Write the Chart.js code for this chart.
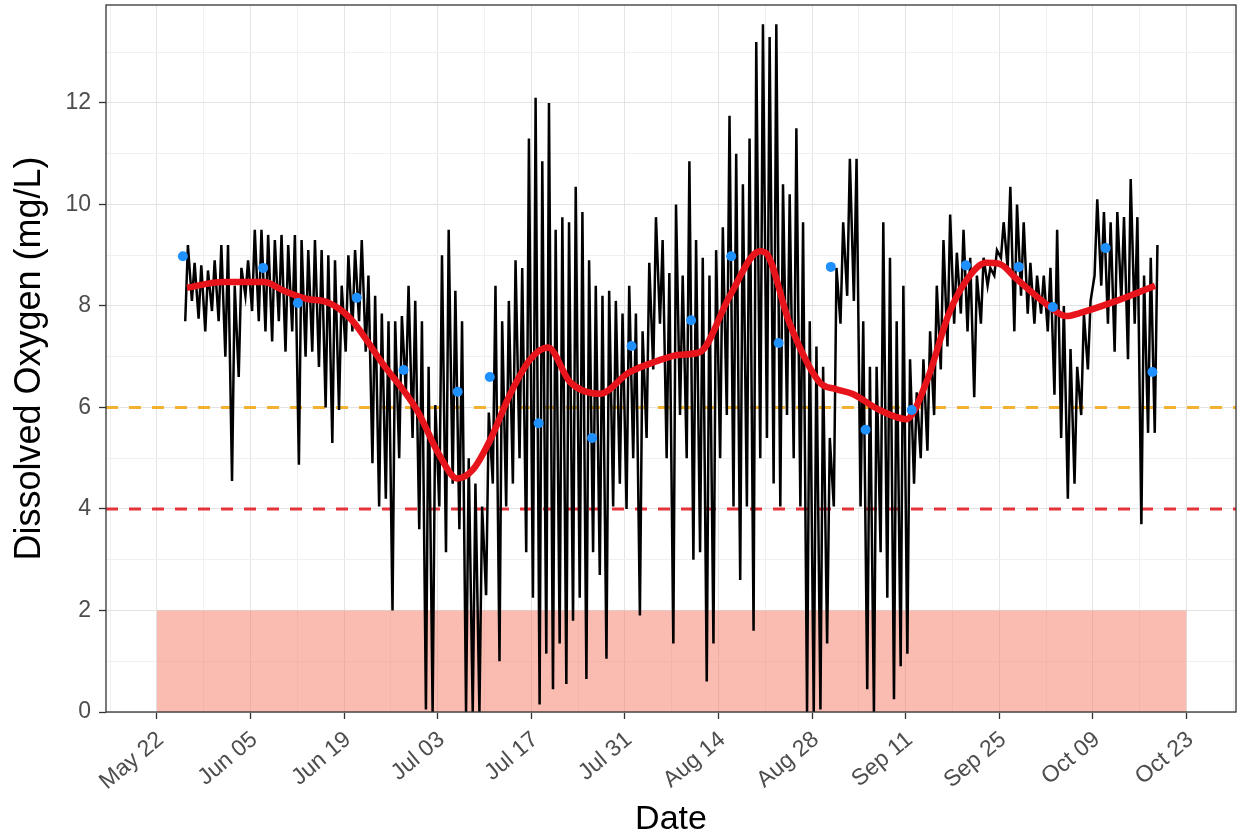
<!DOCTYPE html>
<html>
<head>
<meta charset="utf-8">
<title>Dissolved Oxygen</title>
<script src="https://cdn.jsdelivr.net/npm/chart.js@4.4.1/dist/chart.umd.min.js"></script>
<style>
  html, body { margin: 0; padding: 0; background: #fff; }
  #wrap { width: 1243px; height: 836px; }
</style>
</head>
<body>
<div id="wrap"><canvas id="doChart" width="1243" height="836"></canvas></div>
<script>
// x values are days after May 22
const xTickDays = [0, 14, 28, 42, 56, 70, 84, 98, 112, 126, 140, 154];
const xTickLabels = ['May 22', 'Jun 05', 'Jun 19', 'Jul 03', 'Jul 17', 'Jul 31',
                     'Aug 14', 'Aug 28', 'Sep 11', 'Sep 25', 'Oct 09', 'Oct 23'];
const yTickValues = [0, 2, 4, 6, 8, 10, 12];

// continuous logger: daily high / low, starting May 26
const loggerStartDay = 4;
const doHigh = [
  9.2, 8.85, 8.8, 8.7, 8.9, 9.2, 9.2, 8.4, 8.75, 8.9, 9.5, 9.5, 9.4, 9.3, 9.4, 9.2, 9.4, 9.3, 9.1,
  9.3, 9.1, 9.0, 8.9, 8.4, 9.0, 9.1, 9.3, 8.6, 8.2, 7.85, 7.7, 7.7, 7.8, 8.4, 8.1, 7.7, 6.8,
  6.05, 9.0, 9.5, 8.3, 7.7, 5.0, 4.5, 4.05, 5.9, 8.4, 7.7, 8.1, 8.9, 8.75, 11.3, 12.1, 10.85,
  12.0, 9.5, 9.75, 9.65, 10.35, 9.85, 8.9, 8.4, 8.2, 8.3, 8.1, 7.85, 8.4, 7.85, 7.5, 8.85,
  9.75, 9.3, 8.65, 10.0, 8.6, 10.85, 9.3, 8.95, 8.6, 9.1, 9.55, 11.75, 11.0, 10.4, 11.3, 13.2,
  13.55, 13.3, 13.55, 10.4, 10.2, 11.5, 9.65, 7.7, 7.2, 6.8, 5.4, 8.75, 9.65, 10.9, 10.9, 7.7,
  6.8, 6.8, 9.65, 8.95, 7.7, 8.4, 6.95, 6.3, 6.95, 7.5, 8.4, 9.3, 9.8, 9.05, 9.5, 8.95, 8.6,
  8.95, 8.75, 9.1, 9.65, 10.35, 10.0, 9.65, 8.85, 8.6, 8.6, 8.75, 9.5, 8.0, 7.15, 6.8, 7.85,
  8.1, 10.1, 9.85, 9.65, 9.85, 9.75, 10.5, 9.75, 8.6, 8.95, 9.2
];
const doLow = [
  7.7, 8.1, 7.75, 7.5, 7.9, 7.7, 7.0, 4.55, 6.6, 8.2, 7.9, 7.7, 7.5, 7.3, 7.7, 7.1, 7.5, 4.87, 7.0,
  7.1, 6.8, 6.0, 5.3, 5.95, 7.1, 7.5, 7.7, 7.1, 4.9, 4.05, 4.2, 2.0, 5.0, 6.3, 5.4, 3.6, 0.05,
  0, 4.05, 3.15, 4.5, 3.6, 0, 0, 0, 2.3, 4.5, 1.0, 4.05, 4.5, 5.0, 3.15, 2.25, 0.15,
  1.15, 0.45, 1.35, 0.55, 1.8, 2.25, 0.65, 3.15, 2.7, 1.05, 4.05, 4.5, 4.0, 5.0, 1.9, 5.4,
  6.75, 7.65, 5.0, 1.35, 5.85, 5.0, 3.0, 3.15, 0.6, 1.35, 5.0, 5.85, 4.05, 2.6, 4.05, 1.6,
  5.0, 5.4, 4.5, 4.05, 5.85, 5.0, 4.05, 0, 0, 0.05, 1.35, 4.05, 7.65, 8.2, 8.1, 4.05,
  0.45, 0, 3.15, 2.25, 0.25, 0.9, 1.15, 4.5, 5.0, 5.15, 5.85, 6.75, 7.2, 7.65, 7.85, 7.5, 6.2,
  7.65, 8.4, 8.6, 8.95, 8.75, 7.5, 8.2, 7.85, 7.65, 7.85, 7.5, 6.25, 5.4, 4.2, 4.5, 5.85,
  6.75, 8.6, 8.4, 7.65, 7.1, 8.1, 6.95, 7.65, 3.7, 5.5, 5.5
];

// grab samples
const sampleDays = [3.9, 15.9, 21.1, 29.9, 36.9, 45.0, 49.8, 57.1, 65.1, 71.0, 79.9,
                    85.9, 93.0, 100.8, 106.0, 112.9, 121.0, 128.9, 134.0, 141.9, 148.9];
const sampleDO = [8.98, 8.75, 8.06, 8.16, 6.74, 6.31, 6.6, 5.69, 5.4, 7.21, 7.72,
                  8.98, 7.27, 8.77, 5.56, 5.95, 8.8, 8.77, 7.98, 9.14, 6.7];

// smoothed trend
const trendDays = [4.5, 9.9, 16, 19, 22.4, 25.4, 28.9, 33.8, 38.9, 42.3, 44.9, 47.3, 50.0,
                   52.8, 55.8, 58.5, 61.8, 66.3, 70.5, 74.5, 78.2, 81.2, 85.7, 90.2, 91.2,
                   94.6, 99.1, 101.6, 104, 108.1, 112.1, 115.1, 118.5, 121, 124, 126, 128.6,
                   133.5, 136, 138, 143.1, 149.3];
const trendDO = [8.36, 8.47, 8.47, 8.3, 8.14, 8.08, 7.76, 6.86, 5.95, 5.05, 4.6, 4.78, 5.4,
                 6.25, 6.94, 7.18, 6.5, 6.27, 6.68, 6.9, 7.04, 7.09, 8.2, 9.08, 9.03,
                 7.67, 6.5, 6.36, 6.27, 5.95, 5.77, 6.5, 7.86, 8.49, 8.85, 8.83, 8.53,
                 7.99, 7.8, 7.86, 8.08, 8.4];

// thresholds
const goodLimit = 6;
const stressLimit = 4;
const hypoxiaTop = 2;
const hypoxiaDays = [0, 154];

const xMin = -7.6, xMax = 161.4;
const yMin = 0, yMax = 13.93;

const logger = [];
doHigh.forEach((hi, i) => {
    const day = loggerStartDay + i;
    logger.push({ x: day + 0.25, y: doLow[i] });
    logger.push({ x: day + 0.65, y: hi });
});

const FONT = 'Arial, "Liberation Sans", sans-serif';

// ggplot-style panel border
const panelBorder = {
    id: 'panelBorder',
    afterDraw(chart) {
        const { ctx, chartArea: a } = chart;
        ctx.save();
        ctx.strokeStyle = '#333333';
        ctx.lineWidth = 1.3;
        ctx.strokeRect(a.left, a.top, a.right - a.left, a.bottom - a.top);
        ctx.restore();
    }
};

// keep the plot panel where the layout padding puts it
function noLabelPadding(s) {
    s.paddingLeft = 0; s.paddingRight = 0; s.paddingTop = 0; s.paddingBottom = 0;
}

const xAllTicks = [xTickDays[0] - 7];
xTickDays.forEach(d => { xAllTicks.push(d); xAllTicks.push(d + 7); });
const yAllTicks = [];
yTickValues.forEach(v => { yAllTicks.push(v); yAllTicks.push(v + 1); });

const isMajorX = v => xTickDays.includes(v);
const isMajorY = v => yTickValues.includes(v);

new Chart(document.getElementById('doChart'), {
    type: 'line',
    data: {
        datasets: [{
            label: 'Samples', data: sampleDays.map((d, i) => ({ x: d, y: sampleDO[i] })),
            showLine: false, pointRadius: 5, pointBackgroundColor: '#1E90FF', pointBorderWidth: 0
        }, {
            label: 'Trend', data: trendDays.map((d, i) => ({ x: d, y: trendDO[i] })),
            borderColor: '#E8141B', borderWidth: 6.5, pointRadius: 0, cubicInterpolationMode: 'monotone'
        }, {
            label: 'Logger', data: logger,
            borderColor: '#000000', borderWidth: 2.5, pointRadius: 0, tension: 0
        }, {
            label: '6 mg/L', data: [{ x: xMin, y: goodLimit }, { x: xMax, y: goodLimit }],
            borderColor: '#F2B12E', borderWidth: 3, borderDash: [12, 11], pointRadius: 0
        }, {
            label: '4 mg/L', data: [{ x: xMin, y: stressLimit }, { x: xMax, y: stressLimit }],
            borderColor: '#E5333B', borderWidth: 3, borderDash: [12, 11], pointRadius: 0
        }, {
            label: 'Hypoxia', data: hypoxiaDays.map(d => ({ x: d, y: hypoxiaTop })),
            borderWidth: 0, pointRadius: 0, fill: 'origin', backgroundColor: 'rgba(246,120,100,0.5)'
        }]
    },
    options: {
        responsive: false, animation: false, devicePixelRatio: 1,
        layout: { padding: { top: 5, right: 7, left: 0, bottom: 0 } },
        plugins: { legend: { display: false }, tooltip: { enabled: false } },
        scales: {
            x: {
                type: 'linear', min: xMin, max: xMax,
                afterBuildTicks: s => { s.ticks = xAllTicks.map(v => ({ value: v })); },
                afterFit: s => { s.height = 124; noLabelPadding(s); },
                border: { display: false },
                grid: {
                    color: c => isMajorX(c.tick.value) ? '#E3E3E3' : '#F0F0F0',
                    tickColor: c => isMajorX(c.tick.value) ? '#333333' : 'rgba(0,0,0,0)',
                    lineWidth: 1, tickWidth: 1.3, tickLength: 7
                },
                ticks: {
                    autoSkip: false, minRotation: 40, maxRotation: 40, padding: 7, labelOffset: 4,
                    color: '#4D4D4D', font: { family: FONT, size: 23 },
                    callback: v => isMajorX(v) ? xTickLabels[xTickDays.indexOf(v)] : ''
                },
                title: {
                    display: true, text: 'Date', color: '#000',
                    font: { family: FONT, size: 34, lineHeight: 1 }, padding: { top: 0, bottom: -1 }
                }
            },
            y: {
                min: yMin, max: yMax,
                afterBuildTicks: s => { s.ticks = yAllTicks.map(v => ({ value: v })); },
                afterFit: s => { s.width = 106; noLabelPadding(s); },
                border: { display: false },
                grid: {
                    color: c => isMajorY(c.tick.value) ? '#E3E3E3' : '#F0F0F0',
                    tickColor: c => isMajorY(c.tick.value) ? '#333333' : 'rgba(0,0,0,0)',
                    lineWidth: 1, tickWidth: 1.3, tickLength: 7
                },
                ticks: {
                    padding: 8, color: '#4D4D4D', font: { family: FONT, size: 23 },
                    callback: v => isMajorY(v) ? String(v) : ''
                },
                title: {
                    display: true, text: 'Dissolved Oxygen (mg/L)', color: '#000',
                    font: { family: FONT, size: 36, lineHeight: 1 }, padding: { top: 12, bottom: 0 }
                }
            }
        }
    },
    plugins: [panelBorder]
});
</script>
</body>
</html>
